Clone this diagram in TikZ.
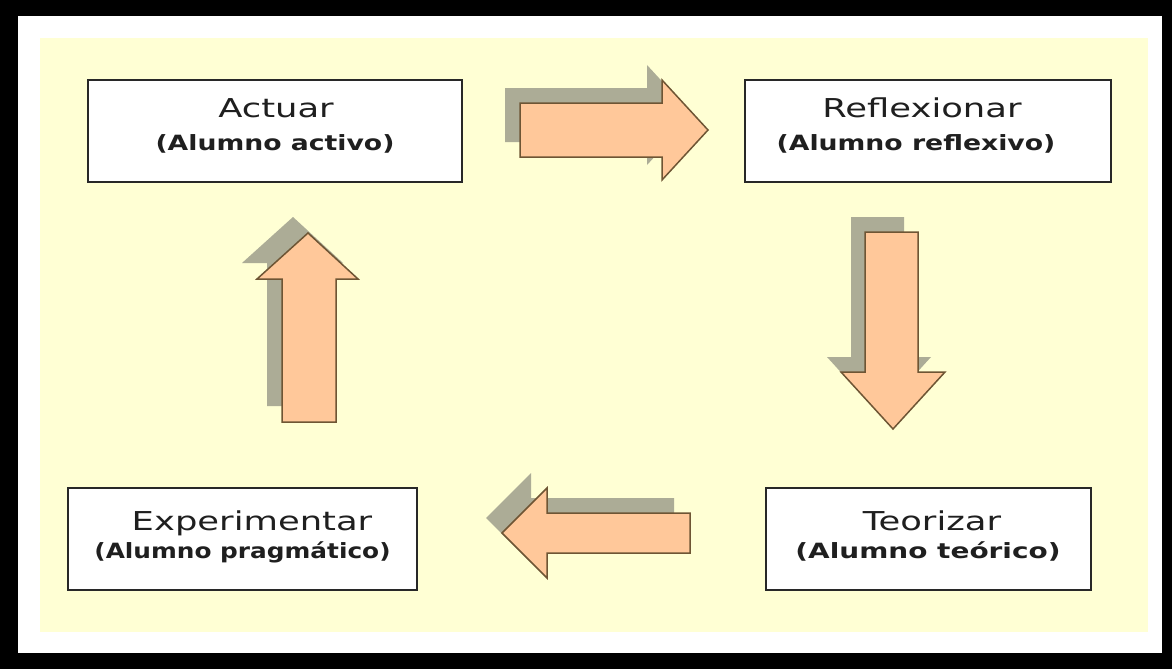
\documentclass[tikz,border=0pt]{standalone}
\usepackage{fontspec}
\setmainfont{DejaVu Sans}
\definecolor{bgyellow}{RGB}{255,255,212}
\definecolor{arrowfill}{RGB}{255,200,154}
\definecolor{arrowline}{RGB}{110,85,52}
\definecolor{shadowc}{RGB}{172,172,150}
\definecolor{boxline}{RGB}{40,40,40}
\newcommand{\ttl}[2][1.36]{\scalebox{#1}[1]{\fontsize{26}{28}\selectfont #2}}
\newcommand{\sbt}[2][1.27]{\scalebox{#1}[1]{\bfseries\fontsize{21}{24}\selectfont #2}}
\begin{document}
\begin{tikzpicture}[x=1pt,y=-1pt,
  box/.style={draw=boxline,line width=1.6pt,fill=white,inner sep=0pt},
  arrowbody/.style={fill=arrowfill,draw=arrowline,line width=1.5pt,line join=miter},
  arrowshadow/.style={fill=shadowc},
  txt/.style={text=black!88,inner sep=0pt,anchor=base}]
% frame
\fill[black] (0,0) rectangle (1172,669);
\useasboundingbox (0,0) rectangle (1172,669);
\fill[white] (18,16) rectangle (1162,653);
\fill[bgyellow] (40,38) rectangle (1148,632);
% boxes
\node[box,minimum width=374pt,minimum height=102pt] (act) at (275,131) {};
\node[txt] (actT) at (276,117.5) {\ttl{Actuar}};
\node[txt] (actS) at (275,150) {\sbt{(Alumno activo)}};
\node[box,minimum width=366pt,minimum height=102pt] (ref) at (928,131) {};
\node[txt] (refT) at (922,117.5) {\ttl{Reflexionar}};
\node[txt] (refS) at (916,150) {\sbt{(Alumno reflexivo)}};
\node[box,minimum width=349pt,minimum height=102pt] (exp) at (242.5,539) {};
\node[txt] (expT) at (252,530.5) {\ttl{Experimentar}};
\node[txt] (expS) at (242.5,558.5) {\sbt[1.18]{(Alumno pragmático)}};
\node[box,minimum width=325pt,minimum height=102pt] (teo) at (928.5,539) {};
\node[txt] (teoT) at (932,530.5) {\ttl{Teorizar}};
\node[txt] (teoS) at (928,558.5) {\sbt[1.33]{(Alumno teórico)}};
% right arrow
\fill[arrowshadow,shift={(-15,-15)}] (520,103)--(662,103)--(662,80)--(708,130)--(662,180)--(662,157)--(520,157)--cycle;
\draw[arrowbody] (520,103)--(662,103)--(662,80)--(708,130)--(662,180)--(662,157)--(520,157)--cycle;
% down arrow
\fill[arrowshadow,shift={(-14,-15)}] (865,232)--(918,232)--(918,372)--(945,372)--(893,429)--(841,372)--(865,372)--cycle;
\draw[arrowbody] (865,232)--(918,232)--(918,372)--(945,372)--(893,429)--(841,372)--(865,372)--cycle;
% left arrow
\fill[arrowshadow,shift={(-16,-15)}] (690,513)--(547,513)--(547,488)--(502,533)--(547,578)--(547,553)--(690,553)--cycle;
\draw[arrowbody] (690,513)--(547,513)--(547,488)--(502,533)--(547,578)--(547,553)--(690,553)--cycle;
% up arrow
\fill[arrowshadow,shift={(-15,-16)}] (282,422)--(336,422)--(336,279)--(358,279)--(308,233)--(257,279)--(282,279)--cycle;
\draw[arrowbody] (282,422)--(336,422)--(336,279)--(358,279)--(308,233)--(257,279)--(282,279)--cycle;
\end{tikzpicture}
\end{document}
